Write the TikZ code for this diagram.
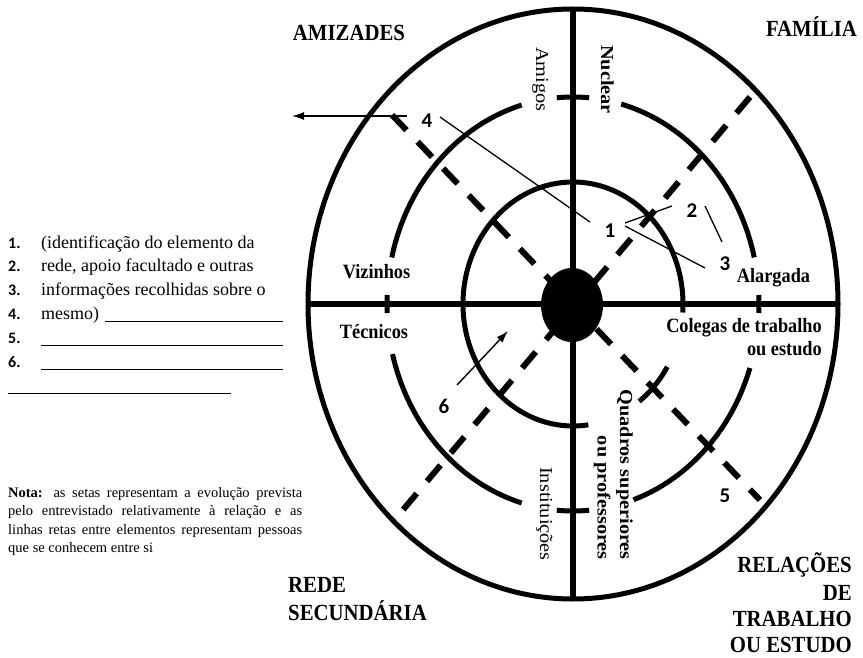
\documentclass[tikz,border=0pt]{standalone}
\usepackage{fontspec}
\usepackage{graphicx}
\setmainfont{Liberation Serif}
\newfontfamily\seriffont{Liberation Serif}
\newfontfamily\numfont{Carlito}
\usetikzlibrary{arrows.meta,shapes.geometric}
\newcommand\ringarc[4]{\draw[ring] ([shift={(#3:#1 and #2)}]C) arc[start angle=#3,end angle=#4,x radius=#1,y radius=#2];}
\newcommand\tallbox[1]{\scalebox{1}[1.11]{#1}}
\newcommand\longbox[1]{\scalebox{1.11}[1]{#1}}
\begin{document}
\begin{tikzpicture}[x=1pt,y=-1pt,
  ring/.style={line width=5pt},
  axisline/.style={line width=6.5pt},
  dashline/.style={line width=6pt,dash pattern=on 21pt off 16pt},
  thinline/.style={line width=1.3pt},
  arrowline/.style={line width=1.4pt,-{Latex[length=12pt,width=8pt]}},
  num/.style={font=\numfont\bfseries\fontsize{21}{21}\selectfont,inner sep=0pt,anchor=base},
  head/.style={font=\seriffont\bfseries\fontsize{20.8}{27}\selectfont,inner sep=0pt},
  lbl/.style={font=\seriffont\bfseries\fontsize{18.3}{24}\selectfont,inner sep=0pt},
  rotlbl/.style={font=\seriffont\bfseries\fontsize{18.3}{22.5}\selectfont,inner sep=0pt,rotate=-90},
  rotreg/.style={font=\seriffont\fontsize{18.3}{22.5}\selectfont,inner sep=0pt,rotate=-90},
  listnum/.style={font=\numfont\bfseries\fontsize{16}{16}\selectfont,inner sep=0pt,anchor=base west},
  listtxt/.style={font=\seriffont\fontsize{18}{23.6}\selectfont,inner sep=0pt,anchor=base west},
  uline/.style={line width=0.9pt}
]
\useasboundingbox (0,0) rectangle (863,658);
\coordinate (C) at (573,304);
% outer ring
\draw[ring] (C) ellipse[x radius=265,y radius=295];
% middle ring
\ringarc{186}{207}{-75}{-13}
\ringarc{186}{207}{-2.5}{2.5}
\ringarc{186}{207}{18}{71}
\ringarc{186}{207}{85}{95}
\ringarc{186}{207}{106}{166}
\ringarc{186}{207}{177.5}{182.5}
\ringarc{186}{207}{193}{254}
\ringarc{186}{207}{265}{275}
% inner ring
\ringarc{110}{122}{90}{364}
\ringarc{110}{122}{31}{53}
\ringarc{110}{122}{82}{90}
% axes
\coordinate (axT) at (573,9);
\coordinate (axB) at (573,599);
\coordinate (axL) at (308,304);
\coordinate (axR) at (838,304);
\draw[axisline] (axT) -- (axB);
\draw[axisline] (axL) -- (axR);
% dashed diagonals
\coordinate (dA1) at (750,97);
\coordinate (dA2) at (397,517);
\coordinate (dB1) at (392,115);
\coordinate (dB2) at (760,500);
\draw[dashline] (dA1) -- (dA2);
\draw[dashline] (dB1) -- (dB2);
% hub
\node[ellipse,fill=black,minimum width=62pt,minimum height=74pt,inner sep=0pt] (hub) at (572,305) {};
% headings
\node[head,anchor=base] (amiz) at (349,41) {\tallbox{AMIZADES}};
\node[head,anchor=base] (fam) at (811.5,37) {\tallbox{FAMÍLIA}};
\node[head,anchor=base west] (rede1) at (288,592) {\tallbox{REDE}};
\node[head,anchor=base west] (rede2) at (288,620) {\tallbox{SECUNDÁRIA}};
\node[head,anchor=base east] (rel1) at (852,572) {\tallbox{RELAÇÕES}};
\node[head,anchor=base east] (rel2) at (852,600) {\tallbox{DE}};
\node[head,anchor=base east] (rel3) at (852,626) {\tallbox{TRABALHO}};
\node[head,anchor=base east] (rel4) at (852,652) {\tallbox{OU ESTUDO}};
% sector labels
\node[lbl,anchor=base] (viz) at (376.5,279) {\tallbox{Vizinhos}};
\node[lbl,anchor=base] (tec) at (374,338) {\tallbox{Técnicos}};
\node[lbl,anchor=base] (alar) at (773.5,283) {\tallbox{Alargada}};
\node[lbl,anchor=base east] (coleg1) at (822,332) {\tallbox{Colegas de trabalho}};
\node[lbl,anchor=base east] (coleg2) at (822,355) {\tallbox{ou estudo}};
\node[rotreg,anchor=base west] (amig) at (536,47) {\longbox{Amigos}};
\node[rotlbl,anchor=base west] (nucl) at (601,45) {\longbox{Nuclear}};
\node[rotreg,anchor=base west] (inst) at (540,467) {\longbox{Instituições}};
\node[rotlbl,anchor=base east] (quad1) at (620,560) {\longbox{Quadros superiores}};
\node[rotlbl,anchor=base east] (quad2) at (597.5,560) {\longbox{ou professores}};
% element numbers
\node[num] (n1) at (610,237) {1};
\node[num] (n2) at (692,218) {2};
\node[num] (n3) at (725,270) {3};
\node[num] (n4) at (427,128) {4};
\node[num] (n5) at (725,502) {5};
\node[num] (n6) at (444,413) {6};
% connectors
\coordinate (c4a) at (440,117);
\coordinate (c1a) at (590,222);
\draw[thinline] (c4a) -- (c1a);
\coordinate (c1b) at (625,223);
\coordinate (c2a) at (672,206);
\draw[thinline] (c1b) -- (c2a);
\coordinate (c1c) at (625,226);
\coordinate (c3a) at (705,268);
\draw[thinline] (c1c) -- (c3a);
\coordinate (c2b) at (705,206);
\coordinate (c3b) at (722,242);
\draw[thinline] (c2b) -- (c3b);
\coordinate (a4s) at (407,116);
\coordinate (a4e) at (292,116);
\draw[arrowline] (a4s) -- (a4e);
\coordinate (a6s) at (457,385);
\coordinate (a6e) at (508,331);
\draw[arrowline] (a6s) -- (a6e);
% left list
\node[listnum] (l1) at (8,248) {1.};
\node[listnum] (l2) at (8,272) {2.};
\node[listnum] (l3) at (8,295) {3.};
\node[listnum] (l4) at (8,319) {4.};
\node[listnum] (l5) at (8,343) {5.};
\node[listnum] (l6) at (8,367) {6.};
\node[listtxt] (t1) at (41,248) {(identificação do elemento da};
\node[listtxt] (t2) at (41,272) {rede, apoio facultado e outras};
\node[listtxt] (t3) at (41,295) {informações recolhidas sobre o};
\node[listtxt] (t4) at (41,319) {mesmo)};
\coordinate (u4a) at (105,321); \coordinate (u4b) at (283,321);
\coordinate (u5a) at (41,345);  \coordinate (u5b) at (283,345);
\coordinate (u6a) at (41,369);  \coordinate (u6b) at (283,369);
\coordinate (u7a) at (8,393);   \coordinate (u7b) at (231,393);
\draw[uline] (u4a) -- (u4b);
\draw[uline] (u5a) -- (u5b);
\draw[uline] (u6a) -- (u6b);
\draw[uline] (u7a) -- (u7b);
% note
\node[anchor=north west,inner sep=0pt,text width=294pt,align=justify,
      font=\seriffont\fontsize{14.5}{18.5}\selectfont] (nota) at (8,487)
  {\textbf{Nota:} as setas representam a evolução prevista\linebreak
   pelo entrevistado relativamente à relação e as\linebreak
   linhas retas entre elementos representam pessoas\linebreak
   que se conhecem entre si};
\end{tikzpicture}
\end{document}
